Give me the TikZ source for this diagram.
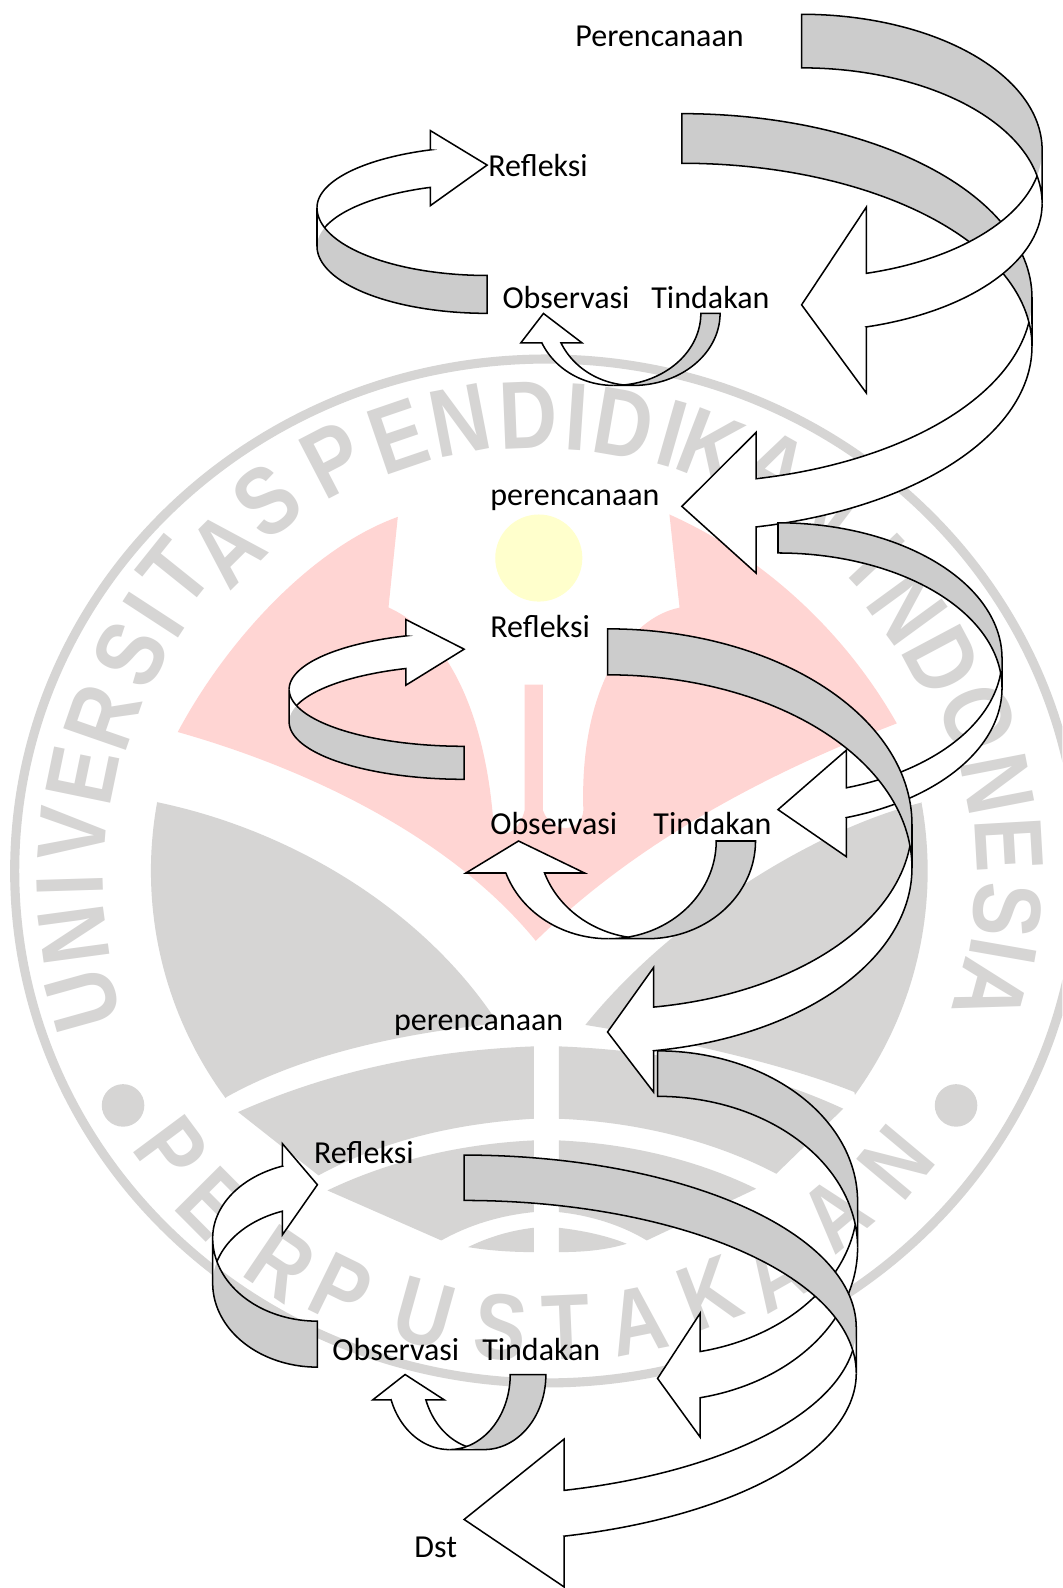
\documentclass[tikz,border=0pt]{standalone}
\usepackage{fontspec}
\setmainfont{Carlito}
\newfontfamily\wmfont[FakeStretch=0.84]{Liberation Sans}
\definecolor{ribgray}{HTML}{CCCCCC}
\definecolor{wmgray}{HTML}{D6D5D4}
\definecolor{wmpink}{HTML}{FFD5D3}
\definecolor{wmyellow}{HTML}{FFFFCC}
\tikzset{
  ribL/.style={x={(-1pt,0pt)},y={(0pt,1pt)}},
  ribR/.style={x={(1pt,0pt)},y={(0pt,-1pt)}},
  ribS/.style={x={(0pt,-1pt)},y={(-1pt,0pt)}},
  ribline/.style={draw=black,line width=1.5pt,line join=miter,miter limit=10},
  lab/.style={anchor=base west,inner sep=0pt,font=\fontsize{31.6}{36}\selectfont},
  wmup/.style={text=wmgray,inner sep=0pt,font=\wmfont\bfseries\fontsize{95}{100}\selectfont},
  wmlow/.style={text=wmgray,inner sep=0pt,font=\wmfont\bfseries\fontsize{92}{100}\selectfont},
  bandzoom/.style={x={(0.44096pt,0pt)},y={(0pt,-0.32925pt)},shift={(177.8pt,-1007.5pt)}}
}
\newcommand\ribbon[9]{\def\rUo{#1}\def\rVt{#2}\def\rVb{#3}\def\rUr{#4}\def\rVo{#5}\def\rVi{#6}\def\rUh{#7}\def\rVha{#8}\def\rVfa{#9}\ribbonB}
\newcommand\ribbonB[3]{%
  \pgfmathsetmacro\rRx{\rUr-\rUo}%
  \pgfmathsetmacro\rTe{acos((\rUh-\rUo)/\rRx)}%
  \pgfmathsetmacro\rSn{sin(\rTe)}%
  \pgfmathsetmacro\rRf{(\rVfa-\rVo)/\rSn}%
  \pgfmathsetmacro\rRb{(#1-\rVi)/\rSn}%
  \pgfmathsetmacro\rRy{\rVi-\rVb}%
  \pgfmathsetmacro\rRo{\rVo-\rVt}%
  \pgfmathsetmacro\rSc{(\rVi-\rVo)/(\rRy+\rRf)}%
  \pgfmathsetmacro\rAc{asin(\rSc)}%
  \def\rBack{plot[domain=90:0,samples=60,variable=\t] ({\rUo+\rRx*cos(\t)},{\rVo-\rRo*sin(\t)})
     -- plot[domain=0:90,samples=60,variable=\t] ({\rUo+\rRx*cos(\t)},{\rVi-\rRy*sin(\t)}) -- cycle}%
  \fill[ribgray] \rBack;
  \fill[white] plot[domain=0:\rTe,samples=60,variable=\t] ({\rUo+\rRx*cos(\t)},{\rVo+\rRf*sin(\t)})
     -- (\rUh,\rVha) -- (\rUo,#3) -- (\rUh,#2) -- (\rUh,#1)
     -- plot[domain=\rTe:0,samples=60,variable=\t] ({\rUo+\rRx*cos(\t)},{\rVi+\rRb*sin(\t)}) -- cycle;
  \draw[ribline] \rBack;
  \draw[ribline] plot[domain=\rAc:\rTe,samples=60,variable=\t] ({\rUo+\rRx*cos(\t)},{\rVo+\rRf*sin(\t)})
     -- (\rUh,\rVha) -- (\rUo,#3) -- (\rUh,#2) -- (\rUh,#1)
     -- plot[domain=\rTe:0,samples=60,variable=\t] ({\rUo+\rRx*cos(\t)},{\rVi+\rRb*sin(\t)});
}
\begin{document}
\begin{tikzpicture}[x=1pt,y=-1pt]
\useasboundingbox (0,0) rectangle (1049,1568);
\clip (0,0) rectangle (1049,1568);
\fill[white] (0,0) rectangle (1049,1568);
% watermark
\fill[wmgray,even odd rule] (540,860) ellipse [x radius=530pt,y radius=510pt] (540,860) ellipse [x radius=521pt,y radius=501pt];
\fill[wmpink] (392.8,510.4) .. controls (310,540) and (225,630) .. (175.5,722.8)
  .. controls (290,755) and (440,820) .. (529,929)
  .. controls (620,840) and (740,770) .. (885.5,714.3)
  .. controls (835,625) and (755,550) .. (661,508) -- (671,600)
  .. controls (620,610) and (572,680) .. (576,800)
  .. controls (575,822) and (545,825) .. (536,800) -- (536,676) -- (518,676) -- (518,800)
  .. controls (512,826) and (490,830) .. (487,810)
  .. controls (480,720) and (450,630) .. (383.6,599.8) -- cycle;
\fill[wmyellow] (532,551) circle [radius=43pt];
\fill[wmgray] (154.8,792) .. controls (290,820) and (420,900) .. (491.7,1010.5)
  .. controls (420,1018) and (310,1035) .. (224,1083)
  -- plot[domain=216.4:169.6,samples=40,variable=\t] ({527+378*cos(\t)},{860-378*sin(\t)}) -- cycle;
\fill[wmgray] (909.4,792.6) .. controls (800,820) and (660,910) .. (578,1012)
  .. controls (640,1022) and (760,1045) .. (843.6,1078.3)
  -- plot[domain=-36:10.4,samples=40,variable=\t] ({540+376*cos(\t)},{860-376*sin(\t)}) -- cycle;
\begin{scope}[bandzoom]
\fill[wmgray] (130,275) .. controls (340,150) and (560,90) .. (792,78) -- (792,295) .. controls (600,310) and (440,370) .. (310,465) -- cycle;
\fill[wmgray] (330,510) .. controls (470,420) and (630,370) .. (792,360) -- (792,575) .. controls (715,585) and (645,615) .. (585,660) -- cycle;
\fill[wmgray] (645,680) .. controls (690,650) and (740,630) .. (792,622) -- (792,695) .. controls (740,695) and (690,690) .. cycle;
\fill[wmgray] (848,78) .. controls (1080,90) and (1300,150) .. (1485,265) -- (1335,460) .. controls (1200,365) and (1030,305) .. (848,295) -- cycle;
\fill[wmgray] (848,360) .. controls (1010,370) and (1160,420) .. (1290,505) -- (1045,660) .. controls (990,615) and (920,585) .. (848,575) -- cycle;
\fill[wmgray] (848,622) .. controls (900,630) and (955,645) .. (1000,670) .. controls (950,690) and (900,695) .. (848,695) -- cycle;
\end{scope}
\fill[wmgray] (121.5,1091.5) circle [radius=21pt];
\fill[wmgray] (944,1091.5) circle [radius=21pt];
\foreach \wmch/\px/\py [count=\i] in {U/82.3/987.7,N/72.4/923.2,I/69.1/874.1,V/71.8/823.7,E/81.7/765.2,R/102/707.9,S/128.4/646.3,I/152.1/607.2,T/172.9/565.7,A/223.9/541.5,S/263.4/495,P/329.3/454.4,E/393.5/431.3,N/454.4/414.9,D/521.9/410,I/569.6/411.6,D/615.7/418.2,I/663.5/428,K/701.3/441.2,A/765/462,N/812/503,I/866/553,N/896/600,D/931/652,O/966/709.4,N/984.5/773.6,E/996/834,S/994.4/898.7,I/991/939,A/978/979}{
  \pgfmathsetmacro\wmr{atan2(860-\py,\px-540)-90}
  \node[wmup,rotate=\wmr] (wmu\i) at (\px,\py) {\wmch};
}
\foreach \wmch/\px/\py [count=\i] in {P/169.2/1135.9,E/209.7/1188.6,R/277.6/1247.9,P/337.2/1274.2,U/418.4/1297.3,S/494.3/1310.4,T/559.2/1310.4,A/629.8/1303.8,K/700.2/1277.4,A/765.2/1257.7,A/824.8/1198.4,N/884.4/1147.8}{
  \pgfmathsetmacro\wmr{atan2(860-\py,\px-540)+90}
  \node[wmlow,rotate=\wmr] (wml\i) at (\px,\py) {\wmch};
}
% ribbons: top group
\begin{scope}[ribR]
\ribbon{673.3}{112.2}{161.2}{1019}{294}{342}{746.7}{426.8}{472.7}{520.3}{566}{500}
\ribbon{791.5}{14.1}{67}{1029}{148}{201}{855.4}{204.6}{269.9}{322.8}{388}{301}
\end{scope}
\begin{scope}[ribL]
\ribbon{-481}{-309.4}{-272}{-313}{-243}{-205}{-425}{-203}{-185}{-148}{-129}{-163}
\end{scope}
\begin{scope}[ribS]
\ribbon{309.5}{-711}{-692}{380.6}{-625}{-606}{338.5}{-574.6}{-553.9}{-535}{-514.3}{-536.6}
\end{scope}
% middle group
\begin{scope}[ribR]
\ribbon{768.2}{516.2}{546}{989.4}{650}{679.4}{835.6}{740.8}{777.9}{807.3}{845.8}{799.4}
\ribbon{599.9}{620.9}{666.3}{900.5}{814}{857}{645.3}{955.4}{994.4}{1037.5}{1078.3}{1019}
\end{scope}
\begin{scope}[ribL]
\ribbon{-458.3}{-769.5}{-736.9}{-285.5}{-712.8}{-680.6}{-400.7}{-676.6}{-660.1}{-627.9}{-611.7}{-641}
\end{scope}
\begin{scope}[ribS]
\ribbon{830.4}{-746}{-707.2}{926.9}{-639}{-600.8}{862}{-577.2}{-537.7}{-499.5}{-460}{-512}
\end{scope}
% lower group
\begin{scope}[ribR]
\ribbon{649.3}{1037.6}{1082.5}{846.8}{1186.4}{1232}{691.4}{1296.6}{1334.5}{1380.1}{1419.1}{1361.1}
\ribbon{458.3}{1140.5}{1185.3}{845.5}{1311}{1356}{557.1}{1420.9}{1471.6}{1516.8}{1567}{1500.3}
\end{scope}
\begin{scope}[ribL]
\ribbon{-313.4}{-1349.9}{-1304.5}{-210}{-1267}{-1222.5}{-278.9}{-1219.2}{-1195.9}{-1151.4}{-1129.3}{-1169.8}
\end{scope}
\begin{scope}[ribS]
\ribbon{1357.2}{-539}{-503.8}{1431.3}{-478}{-443.7}{1382.2}{-438.6}{-420.5}{-386.2}{-368.1}{-400}
\end{scope}
% labels
\node[lab] (t1) at (568,46) {Perencanaan};
\node[lab] (t2) at (482,174) {Refleksi};
\node[lab] (t3) at (496,305) {Observasi};
\node[lab] (t4) at (643,305) {Tindakan};
\node[lab] (t5) at (484,499) {perencanaan};
\node[lab] (t6) at (484,629) {Refleksi};
\node[lab] (t7) at (484,824) {Observasi};
\node[lab] (t8) at (645,824) {Tindakan};
\node[lab] (t9) at (389,1018) {perencanaan};
\node[lab] (t10) at (310,1149) {Refleksi};
\node[lab] (t11) at (328,1343) {Observasi};
\node[lab] (t12) at (476,1343) {Tindakan};
\node[lab] (t13) at (409,1538) {Dst};
\end{tikzpicture}
\end{document}
